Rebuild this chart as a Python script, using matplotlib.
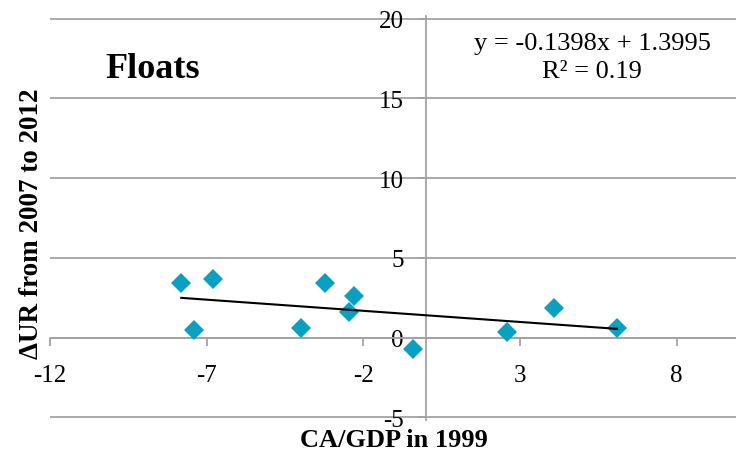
import matplotlib
matplotlib.use("Agg")
import matplotlib.pyplot as plt
import numpy as np

# Data
ca_gdp_1999 = [-7.81, -6.80, -7.40, -3.99, -3.21, -2.29, -2.47, -0.42, 2.58, 4.10, 6.10]
delta_ur = [3.45, 3.70, 0.48, 0.58, 3.45, 2.61, 1.61, -0.73, 0.35, 1.86, 0.63]
trend_slope = -0.1398
trend_intercept = 1.3995
x_ticks = [-12, -7, -2, 3, 8]
y_ticks = [-5, 0, 5, 10, 15, 20]
title_text = "Floats"
eq_line1 = "y = -0.1398x + 1.3995"
eq_line2 = "R² = 0.19"
xlabel_text = "CA/GDP in 1999"
ylabel_text = "ΔUR from 2007 to 2012"

plt.rcParams['font.family'] = ['Liberation Serif', 'DejaVu Serif']

W, H = 736, 452
fig = plt.figure(figsize=(W / 100, H / 100), dpi=100)

# axes geometry (pixels)
px_per_x = 31.33
px_per_y = 15.93
x_left_px = 50
y_top_px = 19.7
y_bot_px = 418.3
ypad = 0.15
xmin, xmax = -12, -12 + (W - x_left_px) / px_per_x
ymin, ymax = -5 - ypad, 20 + ypad
left = x_left_px / W
bottom = 1 - (y_bot_px + ypad * px_per_y) / H
height = (y_bot_px - y_top_px + 2 * ypad * px_per_y) / H
ax = fig.add_axes([left, bottom, 1 - left, height])
ax.set_xlim(xmin, xmax)
ax.set_ylim(ymin, ymax)

grid_col = '#A3A3A3'
for yv in y_ticks:
    ax.axhline(yv, color=grid_col, lw=1.3, zorder=0)

for s in ['top', 'right']:
    ax.spines[s].set_visible(False)
ax.spines['left'].set_position(('data', 0))
ax.spines['bottom'].set_position(('data', 0))
for s in ['left', 'bottom']:
    ax.spines[s].set_color(grid_col)
    ax.spines[s].set_linewidth(1.3)

ax.set_xticks(x_ticks)
ax.set_xticklabels([str(v) for v in x_ticks])
ax.set_yticks(y_ticks)
ax.set_yticklabels([str(v) for v in y_ticks])
ax.tick_params(axis='x', direction='out', length=6, width=1.3, color=grid_col,
               labelsize=18, pad=13)
ax.tick_params(axis='y', direction='out', length=6, width=1.3, color=grid_col,
               labelsize=18, pad=10)

# scatter
ax.plot(ca_gdp_1999, delta_ur, linestyle='none', marker='D', markersize=10.5,
        color='#0AA0C2', markeredgewidth=0, zorder=3)

# trendline
xt = np.array([min(ca_gdp_1999), max(ca_gdp_1999)])
ax.plot(xt, trend_slope * xt + trend_intercept, color='black', lw=1.5, zorder=4)

# texts
fig.text(105 / W, 1 - 78 / H, title_text, fontsize=26, fontweight='bold',
         ha='left', va='baseline')
fig.text(592 / W, 1 - 50 / H, eq_line1, fontsize=19, ha='center', va='baseline')
fig.text(592 / W, 1 - 78 / H, eq_line2, fontsize=19, ha='center', va='baseline')
fig.text(394 / W, 1 - 447 / H, xlabel_text, fontsize=19, fontweight='bold',
         ha='center', va='baseline')
fig.text(32 / W, 1 - 224 / H, ylabel_text, fontsize=19.5, fontweight='bold',
         ha='center', va='center', rotation=90)

fig.savefig('out.png', dpi=100)
